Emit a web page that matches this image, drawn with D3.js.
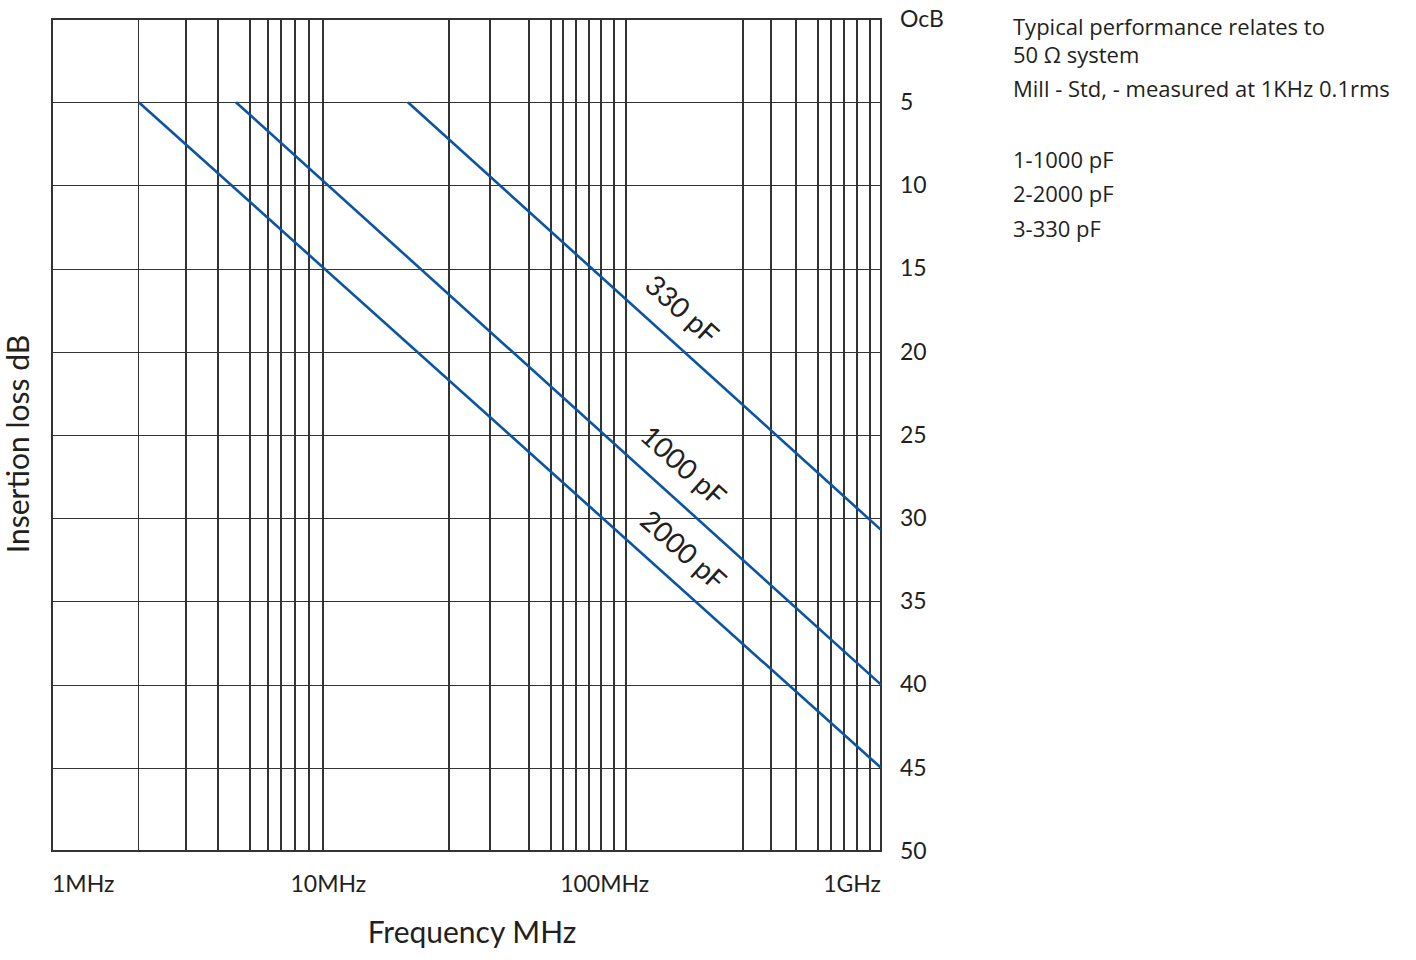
<!DOCTYPE html>
<html>
<head>
<meta charset="utf-8">
<script src="https://cdn.jsdelivr.net/npm/d3@7"></script>
<style>
body { margin: 0; background: #fff; }
svg { display: block; }
.grid line { stroke: #333; stroke-width: 1.4; shape-rendering: crispEdges; }
.frame { fill: none; stroke: #333; stroke-width: 1.6; shape-rendering: crispEdges; }
.curve { fill: none; stroke: #0a55a3; stroke-width: 2.6; }
.chartText { font-family: Lato, "Open Sans", sans-serif; fill: #231f20; }
.note { font-family: "Open Sans", "Noto Sans", sans-serif; font-size: 22px; fill: #231f20; }
</style>
</head>
<body>
<div id="chart"></div>
<script>
// frequency axis (MHz)
var freqDomain = [1, 1000];
var freqTicks = [1, 10, 100, 1000];
var freqLabels = ["1MHz", "10MHz", "100MHz", "1GHz"];
// vertical grid lines as drawn on the sheet (MHz)
var gridFreqs = [2.06, 3.05, 3.99, 5.21, 6.05, 6.74, 7.58, 8.51, 9.57,
                 27.3, 38.5, 53.2, 63.9, 70.7, 78.8, 87.8, 97.0, 108, 119.5,
                 317, 400, 493, 592, 659, 735, 819, 913];

// insertion loss axis (dB)
var dbDomain = [0, 50];
var dbTicks = [0, 5, 10, 15, 20, 25, 30, 35, 40, 45, 50];
var dbLabels = ["OcB", "5", "10", "15", "20", "25", "30", "35", "40", "45", "50"];

// curves: start / end points [MHz, dB]
var seriesNames = ["330 pF", "1000 pF", "2000 pF"];
var curve330 = [[19.4, 5], [1000, 30.7]];
var curve1000 = [[4.63, 5], [1000, 40]];
var curve2000 = [[2.06, 5], [1000, 45]];
var labelFreqs = [161, 163, 163];

var notes = ["Typical performance relates to", "50 \u03A9 system",
             "Mill - Std, - measured at 1KHz 0.1rms",
             "1-1000 pF", "2-2000 pF", "3-330 pF"];
var noteY = [35, 63, 97, 168, 202, 237];

var width = 1416;
var height = 960;

var svg = d3.select("#chart").append("svg")
    .attr("width", width)
    .attr("height", height);

var x = d3.scaleLog().domain(freqDomain).range([52, 881]);
var y = d3.scaleLinear().domain(dbDomain).range([19, 851]);

// grid
var grid = svg.append("g").attr("class", "grid");

grid.selectAll("line.h")
    .data(dbTicks)
    .enter().append("line")
    .attr("class", "h")
    .attr("x1", x(freqDomain[0]))
    .attr("x2", x(freqDomain[1]))
    .attr("y1", function(d) { return Math.round(y(d)) + 0.5; })
    .attr("y2", function(d) { return Math.round(y(d)) + 0.5; });

grid.selectAll("line.v")
    .data(gridFreqs)
    .enter().append("line")
    .attr("class", "v")
    .attr("x1", function(d) { return x(d); })
    .attr("x2", function(d) { return x(d); })
    .attr("y1", y(dbDomain[0]))
    .attr("y2", y(dbDomain[1]));

svg.append("rect")
    .attr("class", "frame")
    .attr("x", x(freqDomain[0]))
    .attr("y", y(dbDomain[0]))
    .attr("width", x(freqDomain[1]) - x(freqDomain[0]))
    .attr("height", y(dbDomain[1]) - y(dbDomain[0]));

// right dB labels
var yAxis = svg.append("g")
    .attr("transform", "translate(" + x(freqDomain[1]) + ",0)")
    .call(d3.axisRight(y)
        .tickValues(dbTicks)
        .tickSize(0)
        .tickPadding(19)
        .tickFormat(function(d, i) { return dbLabels[i]; }));
yAxis.select(".domain").remove();
yAxis.selectAll("text")
    .attr("class", "chartText")
    .attr("font-family", null)
    .style("font-size", "23px");
yAxis.attr("font-family", null).attr("font-size", null);

// bottom frequency labels
svg.selectAll("text.freq")
    .data(freqTicks)
    .enter().append("text")
    .attr("class", "chartText freq")
    .attr("x", function(d) { return x(d); })
    .attr("y", 892)
    .attr("text-anchor", function(d, i) {
        if (i == 0) return "start";
        if (i == freqTicks.length - 1) return "end";
        return "middle";
    })
    .style("font-size", "23px")
    .text(function(d, i) { return freqLabels[i]; });

// curves
var line = d3.line()
    .x(function(d) { return x(d[0]); })
    .y(function(d) { return y(d[1]); });

var curves = [curve330, curve1000, curve2000];

svg.selectAll("path.curve")
    .data(curves)
    .enter().append("path")
    .attr("class", "curve")
    .attr("d", line);

// labels along the curves
curves.forEach(function(c, i) {
    var x0 = x(c[0][0]), y0 = y(c[0][1]);
    var x1 = x(c[1][0]), y1 = y(c[1][1]);
    var ang = Math.atan2(y1 - y0, x1 - x0);
    var f = labelFreqs[i];
    var t = (x(f) - x0) / (x1 - x0);
    var px = x(f);
    var py = y0 + t * (y1 - y0);
    svg.append("text")
        .attr("class", "chartText")
        .attr("transform", "translate(" + px + "," + py + ") rotate(" + (ang * 180 / Math.PI) + ")")
        .attr("x", 0)
        .attr("y", -20)
        .attr("text-anchor", "middle")
        .style("font-size", "28px")
        .text(seriesNames[i]);
});

// axis titles
svg.append("text")
    .attr("class", "chartText")
    .attr("transform", "translate(29," + 444 + ") rotate(-90)")
    .attr("text-anchor", "middle")
    .style("font-size", "30px")
    .text("Insertion loss dB");

svg.append("text")
    .attr("class", "chartText")
    .attr("x", 472)
    .attr("y", 943)
    .attr("text-anchor", "middle")
    .style("font-size", "30px")
    .text("Frequency MHz");

// notes on the right
svg.selectAll("text.note")
    .data(notes)
    .enter().append("text")
    .attr("class", "note")
    .attr("x", 1013)
    .attr("y", function(d, i) { return noteY[i]; })
    .text(function(d) { return d; });
</script>
</body>
</html>
